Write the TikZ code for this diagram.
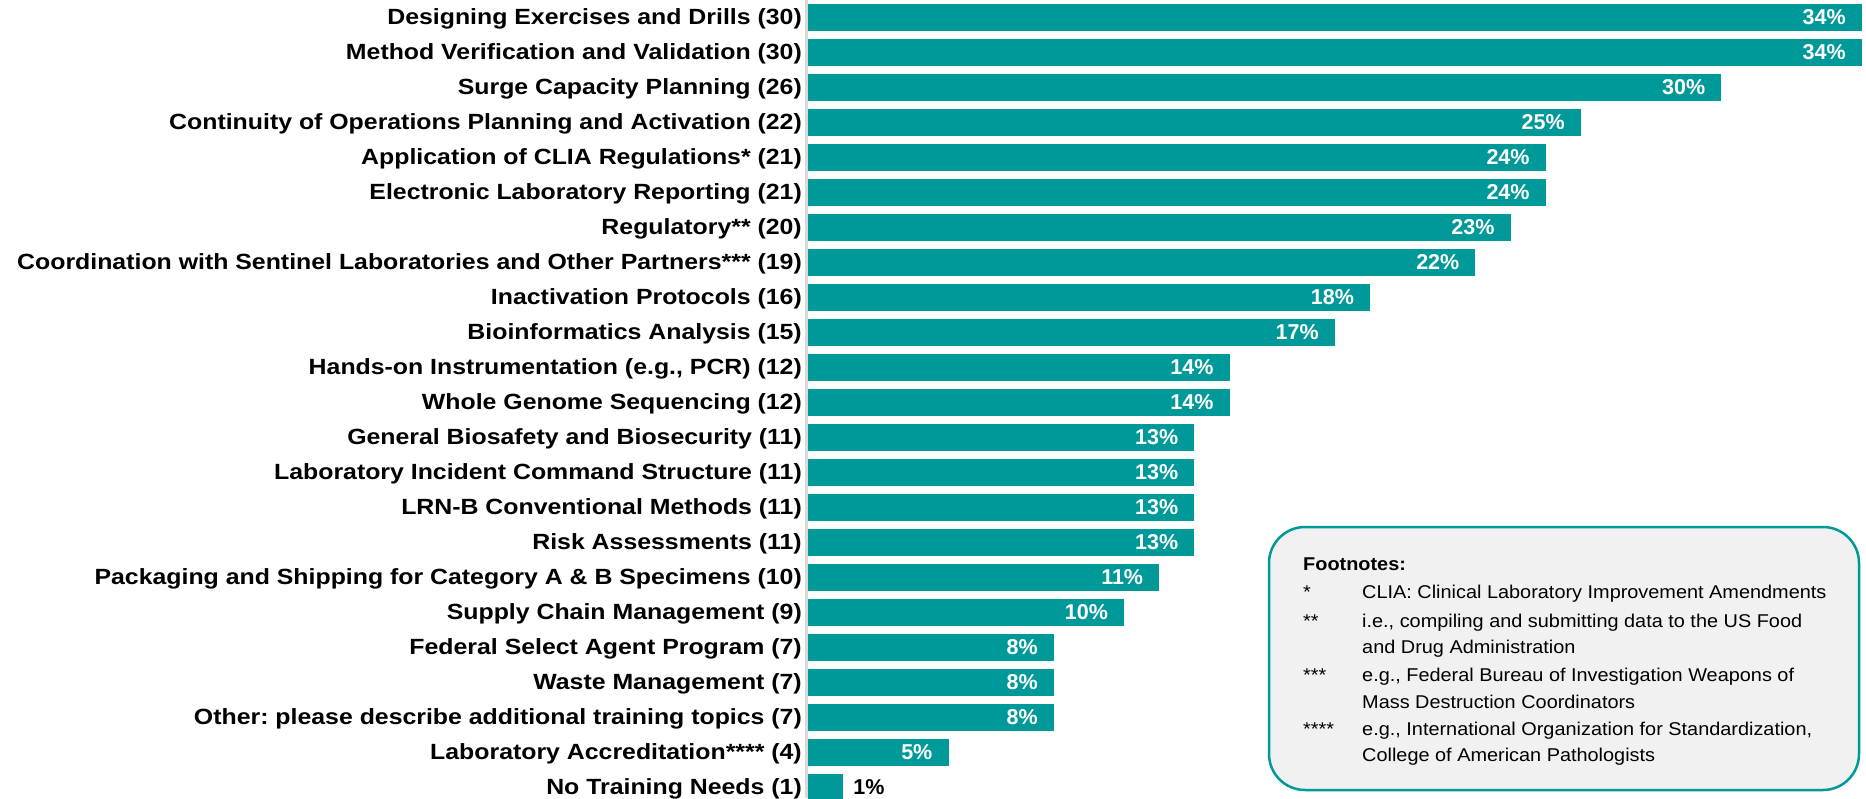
\documentclass[tikz,border=0pt]{standalone}
\usepackage{fontspec}
\setmainfont{Liberation Sans}
\newfontfamily\labelfont[FakeStretch=1.13]{Liberation Sans}
\newfontfamily\notefont[FakeStretch=1.075]{Liberation Sans}
\frenchspacing
\definecolor{barteal}{HTML}{009999}
\definecolor{boxgray}{HTML}{F1F1F1}
\definecolor{axisgray}{HTML}{D9D9D9}
\tikzset{
  toplabel/.style={anchor=base east,inner sep=0pt,font=\labelfont\fontsize{22}{26}\selectfont\bfseries},
  pctin/.style={anchor=base east,inner sep=0pt,text=white,font=\fontsize{21.5}{26}\selectfont\bfseries},
  pctout/.style={anchor=base west,inner sep=0pt,text=black,font=\fontsize{21.5}{26}\selectfont\bfseries},
  notehead/.style={anchor=base west,inner sep=0pt,font=\notefont\fontsize{18.5}{22}\selectfont\bfseries},
  noteline/.style={anchor=base west,inner sep=0pt,font=\notefont\fontsize{18.5}{22}\selectfont},
}
\begin{document}
\begin{tikzpicture}[x=1pt,y=-1pt]
  \pgfmathsetmacro\xaxis{808}
  \pgfmathsetmacro\yfirst{17.5}
  \pgfmathsetmacro\ystep{35}
  \pgfmathsetmacro\hbar{13.5}   % half height of a bar
  \pgfmathsetmacro\perone{35.13} % length for one answer
  \useasboundingbox (0,0) rectangle (1866,798);

% one bar per topic
  \foreach \lab/\num/\pct [count=\i] in {
      {Designing Exercises and Drills}/30/34,
      {Method Verification and Validation}/30/34,
      {Surge Capacity Planning}/26/30,
      {Continuity of Operations Planning and Activation}/22/25,
      {Application of CLIA Regulations*}/21/24,
      {Electronic Laboratory Reporting}/21/24,
      {Regulatory**}/20/23,
      {Coordination with Sentinel Laboratories and Other Partners***}/19/22,
      {Inactivation Protocols}/16/18,
      {Bioinformatics Analysis}/15/17,
      {Hands-on Instrumentation (e.g., PCR)}/12/14,
      {Whole Genome Sequencing}/12/14,
      {General Biosafety and Biosecurity}/11/13,
      {Laboratory Incident Command Structure}/11/13,
      {LRN-B Conventional Methods}/11/13,
      {Risk Assessments}/11/13,
      {Packaging and Shipping for Category A \& B Specimens}/10/11,
      {Supply Chain Management}/9/10,
      {Federal Select Agent Program}/7/8,
      {Waste Management}/7/8,
      {Other: please describe additional training topics}/7/8,
      {Laboratory Accreditation****}/4/5,
      {No Training Needs}/1/1}{
    \pgfmathsetmacro\yc{\yfirst+(\i-1)*\ystep}
    \pgfmathsetmacro\xend{\xaxis+\num*\perone}
    \fill[barteal] (\xaxis,\yc-\hbar) rectangle (\xend,\yc+\hbar);
    \node[toplabel] (lab\i) at (\xaxis-6,\yc+6.5) {\lab\ (\num)};
    \ifnum\num>1
      \node[pctin] (pct\i) at (\xend-16,\yc+6.5) {\pct\%};
    \else
      \node[pctout] (pct\i) at (\xend+10,\yc+6.5) {\pct\%};
    \fi
  }

% axis line
  \draw[axisgray,line width=2.5pt] (806.5,0) -- (806.5,798);

% footnote box
  \draw[barteal,fill=boxgray,line width=2.5pt,rounded corners=36pt] (1269,527) rectangle (1859,790);
  \node[notehead] (fnhead) at (1303,570.5) {Footnotes:};
  \node[noteline] (fnmark1) at (1303,598) {*};
  \node[noteline] (fntext1) at (1362,598) {CLIA: Clinical Laboratory Improvement Amendments};
  \node[noteline] (fnmark2) at (1303,627) {**};
  \node[noteline] (fntext2) at (1362,627) {i.e., compiling and submitting data to the US Food};
  \node[noteline] (fntext2b) at (1362,653) {and Drug Administration};
  \node[noteline] (fnmark3) at (1303,681) {***};
  \node[noteline] (fntext3) at (1362,681) {e.g., Federal Bureau of Investigation Weapons of};
  \node[noteline] (fntext3b) at (1362,708) {Mass Destruction Coordinators};
  \node[noteline] (fnmark4) at (1303,735) {****};
  \node[noteline] (fntext4) at (1362,735) {e.g., International Organization for Standardization,};
  \node[noteline] (fntext4b) at (1362,761) {College of American Pathologists};
\end{tikzpicture}
\end{document}
